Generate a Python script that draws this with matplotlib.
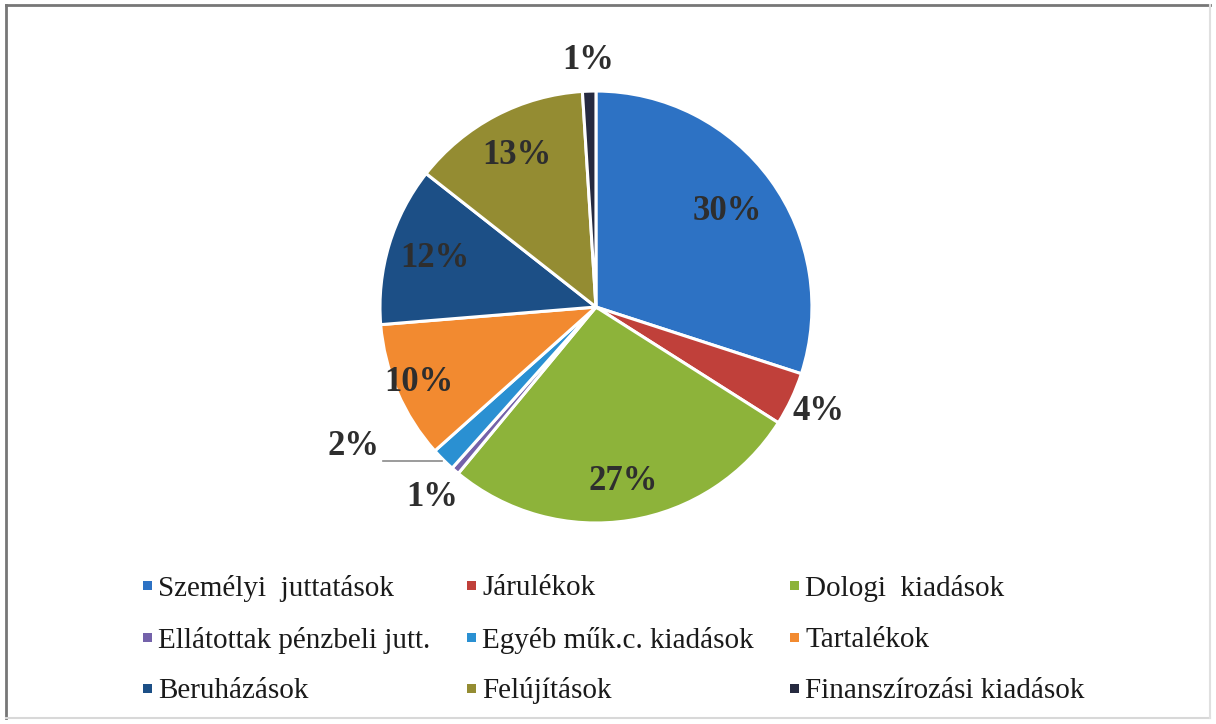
import numpy as np
import matplotlib
matplotlib.use("Agg")
import matplotlib.pyplot as plt
from matplotlib.lines import Line2D
from matplotlib.patches import Rectangle

plt.rcParams['font.family'] = ['Liberation Serif', 'DejaVu Serif']

# data (percent of total expenditure)
categories = ['Személyi  juttatások', 'Járulékok', 'Dologi  kiadások',
              'Ellátottak pénzbeli jutt.', 'Egyéb műk.c. kiadások', 'Tartalékok',
              'Beruházások', 'Felújítások', 'Finanszírozási kiadások']
values = [30.0, 4.0, 27.0, 0.6, 1.8, 10.3, 11.9, 13.4, 1.0]
labels = ['30%', '4%', '27%', '1%', '2%', '10%', '12%', '13%', '1%']
colors = ['#2D72C4', '#C0403A', '#8DB33A', '#7462AA', '#2A90D2',
          '#F28A30', '#1C4F86', '#948C32', '#262A40']
label_dist = [0.75, 1.14, 0.82, 1.16, None, 0.89, 0.78, 0.79, 1.14]

W, H = 1216, 724
fig = plt.figure(figsize=(W / 100, H / 100), dpi=100)

# frame around the chart: darker top/left, faint bottom/right like the scan
fig.add_artist(Line2D([0.005, 0.995], [0.993, 0.993], transform=fig.transFigure,
                      color='#777777', linewidth=2))
fig.add_artist(Line2D([0.005, 0.005], [0.008, 0.993], transform=fig.transFigure,
                      color='#777777', linewidth=2))
fig.add_artist(Line2D([0.005, 0.995], [0.008, 0.008], transform=fig.transFigure,
                      color='#d8d8d8', linewidth=1.5))
fig.add_artist(Line2D([0.995, 0.995], [0.008, 0.993], transform=fig.transFigure,
                      color='#e0e0e0', linewidth=1.5))

ax = fig.add_axes([0.2592, 0.1881, 0.4618, 0.7757])
wedges, _ = ax.pie(values, colors=colors, startangle=90, counterclock=False,
                   radius=1.0, wedgeprops=dict(edgecolor='white', linewidth=2.2))
ax.set_xlim(-1.3, 1.3)
ax.set_ylim(-1.3, 1.3)
ax.set_aspect('equal')
ax.axis('off')

for w, lab, d in zip(wedges, labels, label_dist):
    mid = np.deg2rad((w.theta1 + w.theta2) / 2)
    if d is None:
        # small slice with a leader line to the left
        ex, ey = 1.01 * np.cos(mid), 1.01 * np.sin(mid)
        lx = ex - 0.27
        ax.plot([ex, lx], [ey, ey], color='#8a8a8a', linewidth=1.2, clip_on=False)
        ax.text(lx - 0.02, ey + 0.07, lab, ha='right', va='center', fontsize=25,
                fontweight='bold', color='#2e2e2e')
        continue
    ax.text(d * np.cos(mid), d * np.sin(mid), lab, ha='center', va='center',
            fontsize=25, fontweight='bold', color='#2e2e2e')

# legend, row by row in a 3 column grid (pixel layout of the reference)
col_x = [143, 467, 790]
row_y = [585, 637, 688]
sq = 9
for i, (name, c) in enumerate(zip(categories, colors)):
    x, y = col_x[i % 3], row_y[i // 3]
    fig.add_artist(Rectangle((x / W, 1 - (y + sq / 2) / H), sq / W, sq / H,
                             transform=fig.transFigure, facecolor=c, edgecolor='none'))
    fig.text((x + 15) / W, 1 - y / H, name, ha='left', va='center_baseline',
             fontsize=21, color='#1a1a1a')

fig.savefig('out.png', dpi=100, facecolor='white')
